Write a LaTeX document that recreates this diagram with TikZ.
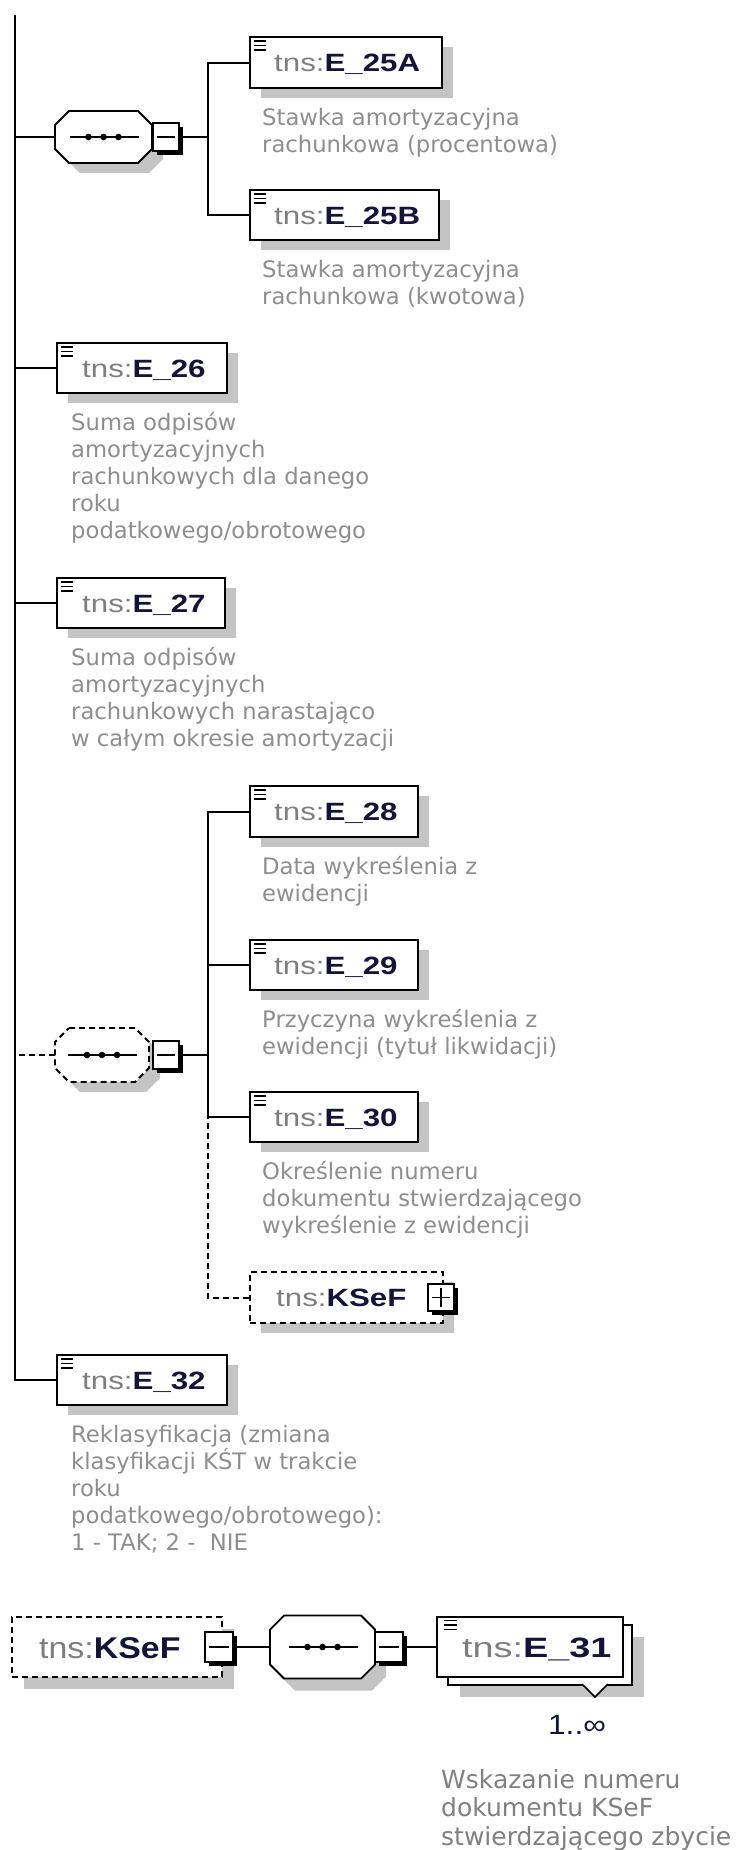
\documentclass[tikz,border=0pt]{standalone}
\usepackage{fontspec}
\usetikzlibrary{calc,shadows}
\newfontfamily\descfont{DejaVu Sans}
\newfontfamily\ttA[FakeStretch=1.25]{Liberation Sans}
\newfontfamily\ttB[FakeStretch=1.13]{Liberation Sans}
\newfontfamily\ttC[FakeStretch=1.35]{Liberation Sans}
\definecolor{shd}{HTML}{C4C4C4}
\definecolor{tnsgray}{HTML}{7E7E7E}
\definecolor{namecol}{HTML}{14143A}
\definecolor{descgray}{HTML}{8E8E8E}
\newcommand\ttl[1]{{\color{tnsgray}tns:}{\bfseries\color{namecol}#1}}
\newcommand\fs{\rule{0pt}{20pt}}
\newcommand\fsb{\rule{0pt}{22pt}}
% octagon: name, cx, cy, w, h, style, shadow y
\newcommand\octagon[7]{%
  \node[inner sep=0pt, minimum width=#4pt, minimum height=#5pt] (#1) at (#2,#3) {};
  \begin{scope}[shift={(11,#7)}]
    \fill[shd] ({#2-#4/2+14},{#3-#5/2}) -- ({#2+#4/2-14},{#3-#5/2}) -- ({#2+#4/2},{#3-#5/2+14}) -- ({#2+#4/2},{#3+#5/2-14}) -- ({#2+#4/2-14},{#3+#5/2}) -- ({#2-#4/2+14},{#3+#5/2}) -- ({#2-#4/2},{#3+#5/2-14}) -- ({#2-#4/2},{#3-#5/2+14}) -- cycle;
  \end{scope}
  \filldraw[fill=white, line width=1.8pt, #6] ({#2-#4/2+14},{#3-#5/2}) -- ({#2+#4/2-14},{#3-#5/2}) -- ({#2+#4/2},{#3-#5/2+14}) -- ({#2+#4/2},{#3+#5/2-14}) -- ({#2+#4/2-14},{#3+#5/2}) -- ({#2-#4/2+14},{#3+#5/2}) -- ({#2-#4/2},{#3+#5/2-14}) -- ({#2-#4/2},{#3-#5/2+14}) -- cycle;
  \draw[line width=1.8pt] ({#2-34},#3) -- ({#2+35},#3);
  \fill ({#2-15},#3) circle (3.3pt) ({#2},#3) circle (3.3pt) ({#2+15},#3) circle (3.3pt);
}
% toggle box: name, cx, cy, w, h, plus?
\newcommand\tbox[6]{%
  \node[tgl, minimum width=#4pt, minimum height=#5pt] (#1) at (#2,#3) {};
  \draw[line width=1.6pt] ($(#1.west)+(5,0)$) -- ($(#1.east)+(-5,0)$);
  \ifnum#6=1 \draw[line width=1.6pt] ($(#1.north)+(0,5)$) -- ($(#1.south)+(0,-5)$);\fi
}
\newcommand\icon[1]{\draw[line width=1.3pt] ($(#1.north west)+(5,5)$) -- ++(12,0) ($(#1.north west)+(5,9.5)$) -- ++(12,0) ($(#1.north west)+(5,14)$) -- ++(12,0);}
\newcommand\iconB[1]{\draw[line width=1.4pt] ($(#1.north west)+(8,4.5)$) -- ++(13,0) ($(#1.north west)+(8,9)$) -- ++(13,0) ($(#1.north west)+(8,13.5)$) -- ++(13,0);}
\begin{document}
\begin{tikzpicture}[x=1pt,y=-1pt,line join=miter,
  elem/.style={draw, fill=white, line width=2pt, inner sep=0pt,
    drop shadow={shadow xshift=11pt, shadow yshift=-10pt, fill=shd, opacity=1}},
  elemB/.style={draw, fill=white, line width=2pt, inner sep=0pt,
    drop shadow={shadow xshift=12pt, shadow yshift=-12pt, fill=shd, opacity=1}},
  plainbox/.style={draw, fill=white, line width=2pt, inner sep=0pt},
  opt/.style={dash pattern=on 6pt off 4pt},
  conn/.style={line width=2pt},
  tgl/.style={draw, fill=white, line width=1.6pt, inner sep=0pt,
    drop shadow={shadow xshift=4pt, shadow yshift=-4pt, fill=black, opacity=1}},
  desc/.style={anchor=north west, inner sep=0pt, align=left, text=descgray,
    font=\descfont\fontsize{22.7}{27}\selectfont},
  descB/.style={anchor=north west, inner sep=0pt, align=left, text=descgray!90!black,
    font=\descfont\fontsize{25}{28.5}\selectfont},
  ttlA/.style={anchor=base west, inner sep=0pt, font=\ttA\fontsize{25}{30}\selectfont},
  ttlB/.style={anchor=base west, inner sep=0pt, font=\ttB\fontsize{30}{34}\selectfont},
  ttlC/.style={anchor=base west, inner sep=0pt, font=\ttC\fontsize{28}{32}\selectfont},
]
\fill[white] (0,0) rectangle (748,1850);
\useasboundingbox (0,0) rectangle (748,1850);

\coordinate (top) at (15,15);

% ---------- first sequence ----------
\octagon{s1}{103.5}{137}{97}{52}{solid}{10}
\tbox{m1}{166}{137}{26}{28}{0}
\coordinate (b1) at (208,137);

\node[elem, minimum width=192pt, minimum height=51pt] (e25a) at (346,62.5) {};
\icon{e25a}
\node[ttlA] (e25at) at ([xshift=25pt,yshift=-9pt]e25a.west) {\ttl{E\_25A}};
\node[desc] (e25ad) at ([xshift=13pt,yshift=-16pt]e25a.south west) {\fs Stawka amortyzacyjna\\rachunkowa (procentowa)};

\node[elem, minimum width=189pt, minimum height=50pt] (e25b) at (344.5,215) {};
\icon{e25b}
\node[ttlA] (e25bt) at ([xshift=25pt,yshift=-9pt]e25b.west) {\ttl{E\_25B}};
\node[desc] (e25bd) at ([xshift=13pt,yshift=-16pt]e25b.south west) {\fs Stawka amortyzacyjna\\rachunkowa (kwotowa)};

% ---------- E_26, E_27 ----------
\node[elem, minimum width=170pt, minimum height=50pt] (e26) at (142,368) {};
\icon{e26}
\node[ttlA] (e26t) at ([xshift=26pt,yshift=-9pt]e26.west) {\ttl{E\_26}};
\node[desc] (e26d) at ([xshift=15pt,yshift=-16pt]e26.south west) {\fs Suma odpisów\\amortyzacyjnych\\rachunkowych dla danego\\roku\\podatkowego/obrotowego};

\node[elem, minimum width=168pt, minimum height=50pt] (e27) at (141,603) {};
\icon{e27}
\node[ttlA] (e27t) at ([xshift=26pt,yshift=-9pt]e27.west) {\ttl{E\_27}};
\node[desc] (e27d) at ([xshift=15pt,yshift=-16pt]e27.south west) {\fs Suma odpisów\\amortyzacyjnych\\rachunkowych narastająco\\w całym okresie amortyzacji};

% ---------- optional sequence ----------
\octagon{s2}{102}{1055}{94}{54}{opt}{10}
\tbox{m2}{166}{1055}{26}{28}{0}
\coordinate (b2) at (208,1055);

\node[elem, minimum width=168pt, minimum height=51pt] (e28) at (334,811.5) {};
\icon{e28}
\node[ttlA] (e28t) at ([xshift=25pt,yshift=-9pt]e28.west) {\ttl{E\_28}};
\node[desc] (e28d) at ([xshift=13pt,yshift=-16pt]e28.south west) {\fs Data wykreślenia z\\ewidencji};

\node[elem, minimum width=168pt, minimum height=50pt] (e29) at (334,965) {};
\icon{e29}
\node[ttlA] (e29t) at ([xshift=25pt,yshift=-9pt]e29.west) {\ttl{E\_29}};
\node[desc] (e29d) at ([xshift=13pt,yshift=-16pt]e29.south west) {\fs Przyczyna wykreślenia z\\ewidencji (tytuł likwidacji)};

\node[elem, minimum width=168pt, minimum height=50pt] (e30) at (334,1117) {};
\icon{e30}
\node[ttlA] (e30t) at ([xshift=25pt,yshift=-9pt]e30.west) {\ttl{E\_30}};
\node[desc] (e30d) at ([xshift=13pt,yshift=-16pt]e30.south west) {\fs Określenie numeru\\dokumentu stwierdzającego\\wykreślenie z ewidencji};

\node[elem, opt, minimum width=193pt, minimum height=51pt] (ksef1) at (346.5,1297.5) {};
\node[ttlA] (ksef1t) at ([xshift=27pt,yshift=-9pt]ksef1.west) {\ttl{KSeF}};
\tbox{p1}{441}{1297.5}{26}{27}{1}

% ---------- E_32 ----------
\node[elem, minimum width=170pt, minimum height=50pt] (e32) at (142,1380) {};
\icon{e32}
\node[ttlA] (e32t) at ([xshift=26pt,yshift=-9pt]e32.west) {\ttl{E\_32}};
\node[desc] (e32d) at ([xshift=15pt,yshift=-16pt]e32.south west) {\fs Reklasyfikacja (zmiana\\klasyfikacji KŚT w trakcie\\roku\\podatkowego/obrotowego):\\1 - TAK; 2 -\ \ NIE};

% ---------- connectors ----------
\draw[conn] (top) |- (e32.west);
\draw[conn] (s1.west) -- (s1.west -| top);
\draw[conn] (e26.west) -- (e26.west -| top);
\draw[conn] (e27.west) -- (e27.west -| top);
\draw[conn, opt] (s2.west) -- (s2.west -| top);
\draw[conn] (m1.east) -- (b1);
\draw[conn] (e25a.west) -| (b1);
\draw[conn] (e25b.west) -| (b1);
\draw[conn] (m2.east) -- (b2);
\draw[conn] (e28.west) -| (b2);
\draw[conn] (e29.west) -| (b2);
\draw[conn] (e30.west) -| (b2);
\draw[conn, opt] (ksef1.west) -| (e30.west -| b2);

% ---------- bottom diagram ----------
\node[elemB, opt, minimum width=210pt, minimum height=60pt] (ksef2) at (117,1647) {};
\node[ttlB] (ksef2t) at ([xshift=28pt,yshift=-11pt]ksef2.west) {\ttl{KSeF}};
\tbox{m3}{219}{1647}{28}{30}{0}

\octagon{s3}{322.5}{1647}{105}{63}{solid}{12}
\tbox{m4}{389}{1647}{28}{30}{0}

\node[elemB, minimum width=184pt, minimum height=60pt] (e31b) at (540,1655) {};
\filldraw[fill=white, line width=1.6pt] (582,1684) -- (595,1697) -- (608,1684);
\node[plainbox, minimum width=186pt, minimum height=60pt] (e31) at (530,1647) {};
\iconB{e31}
\node[ttlC] (e31t) at ([xshift=26pt,yshift=-10pt]e31.west) {\ttl{E\_31}};
\node[anchor=base, inner sep=0pt, text=namecol, font=\ttB\fontsize{28}{32}\selectfont] (e31m) at ([xshift=47pt,yshift=-56pt]e31.south) {1..∞};
\node[descB] (e31d) at ([xshift=5pt,yshift=-88pt]e31.south west) {\fsb Wskazanie numeru\\dokumentu KSeF\\stwierdzającego zbycie};

\draw[conn] (m3.east) -- (s3.west);
\draw[conn] (m4.east) -- (e31.west);
\end{tikzpicture}
\end{document}
